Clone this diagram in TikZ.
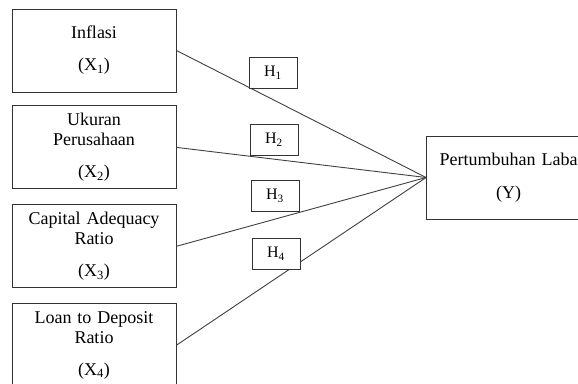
\documentclass[tikz,border=0pt]{standalone}
\usepackage{fontspec}
\setmainfont{Liberation Serif}
\usetikzlibrary{positioning}

\begin{document}
\begin{tikzpicture}[x=1pt,y=-1pt,
    line width=0.9pt,
    varbox/.style={draw=black!80, fill=white, inner sep=0pt,
      minimum width=164pt, minimum height=83pt,
      text width=160pt, align=center,
      font=\fontsize{18}{20}\selectfont},
    hbox/.style={draw=black!80, fill=white, inner sep=0pt,
      minimum width=48pt, minimum height=31pt,
      font=\fontsize{16}{18}\selectfont},
    link/.style={draw=black!75}]
  \clip (0,0) rectangle (578,383);
  \node (inflasi)
        [varbox]
        at (94,50.5)
        {Inflasi\\[12pt](X\textsubscript{1})};
  \node (ukuranPerusahaan)
        [varbox,below=13pt of inflasi]
        {Ukuran\\Perusahaan\\[12pt](X\textsubscript{2})};
  \node (capitalAdequacy)
        [varbox,below=15pt of ukuranPerusahaan]
        {Capital Adequacy\\Ratio\\[12pt](X\textsubscript{3})};
  \node (loanDeposit)
        [varbox,below=15pt of capitalAdequacy]
        {Loan to Deposit\\Ratio\\[12pt](X\textsubscript{4})};
  \node (pertumbuhanLaba)
        [varbox]
        at (508.5,177.5)
        {Pertumbuhan Laba\\[13pt](Y)};

  \draw[link] (inflasi.east) -- (pertumbuhanLaba.west);
  \draw[link] (ukuranPerusahaan.east) -- (pertumbuhanLaba.west);
  \draw[link] (capitalAdequacy.east) -- (pertumbuhanLaba.west);
  \draw[link] (loanDeposit.east) -- (pertumbuhanLaba.west);

  \node (h1) [hbox] at (273,72.5) {H\textsubscript{1}};
  \node (h2) [hbox] at (274,139.5) {H\textsubscript{2}};
  \node (h3) [hbox] at (275,196) {H\textsubscript{3}};
  \node (h4) [hbox] at (276,254) {H\textsubscript{4}};
\end{tikzpicture}
\end{document}
